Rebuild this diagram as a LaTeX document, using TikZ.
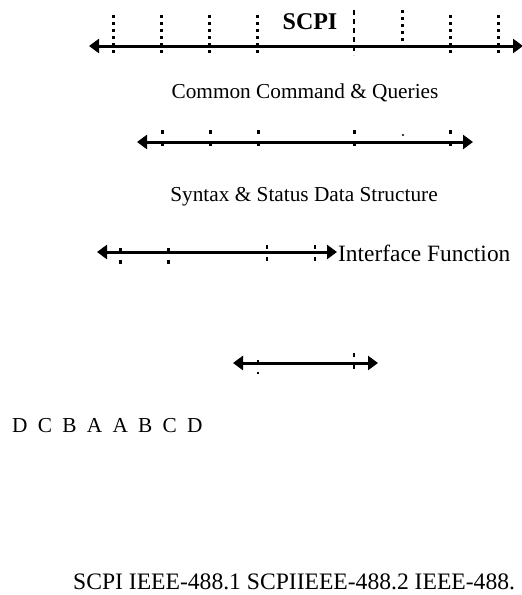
\documentclass[tikz,border=0pt]{standalone}
\usepackage{fontspec}
\setmainfont{Liberation Serif}
\usetikzlibrary{arrows.meta}

\tikzset{
  axis/.style={line width=3pt, {Triangle[length=10pt,width=14pt]}-{Triangle[length=10pt,width=14pt]}},
  tickmark/.style={line width=3pt, dash pattern=on 3pt off 4pt},
  shorttick/.style={line width=3pt, dash pattern=on 4pt off 8pt},
  thintick/.style={line width=1.2pt, dash pattern=on 4pt off 8pt},
  txt/.style={inner sep=0pt, anchor=base},
}

\begin{document}
\begin{tikzpicture}[x=1pt, y=-1pt]
    \useasboundingbox (0,0) rectangle (522,595);

    % SCPI
    \coordinate (scpiL) at (89,46);
    \coordinate (scpiR) at (523,46);
    \foreach \x in {113,161,209,257,450,498}
        \draw[tickmark] (\x,15) -- (\x,55);
    \draw[tickmark] (402,10) -- (402,50);
    \draw[line width=1.2pt, dash pattern=on 5pt off 4pt] (354,10) -- (354,55);
    \draw[axis] (scpiL) -- (scpiR);
    \node[txt, font=\bfseries\fontsize{24pt}{26pt}\selectfont] (scpi) at (310,29) {SCPI};

    % Common Command & Queries
    \node[txt, font=\fontsize{21.3pt}{24pt}\selectfont] (ccq) at (305,98) {Common Command \& Queries};
    \coordinate (ccqL) at (137,142);
    \coordinate (ccqR) at (473,142);
    \foreach \x in {162,210,258,354,450}
        \draw[shorttick] (\x,130) -- (\x,148);
    \fill (403,135) circle (1.2);
    \draw[axis] (ccqL) -- (ccqR);

    % Syntax & Status Data Structure
    \node[txt, font=\fontsize{21.3pt}{24pt}\selectfont] (ssd) at (304,201) {Syntax \& Status Data Structure};

    % Interface Function
    \coordinate (ifL) at (97,252);
    \coordinate (ifR) at (337,252);
    \foreach \x in {120,168}
        \draw[shorttick] (\x,248) -- (\x,264);
    \foreach \x in {267,315}
        \draw[thintick] (\x,245) -- (\x,264);
    \draw[axis] (ifL) -- (ifR);
    \node[txt, anchor=base west, font=\fontsize{23.4pt}{26pt}\selectfont] (iff) at (338,261) {Interface Function};

    % 第四条
    \coordinate (lowL) at (233,363);
    \coordinate (lowR) at (378,363);
    \draw[thintick] (258,360) -- (258,374);
    \draw[thintick] (354,353) -- (354,370);
    \draw[axis] (lowL) -- (lowR);

    % 字母
    \node[txt, anchor=base west, font=\fontsize{21.3pt}{24pt}\selectfont] (letters) at (12,432) {\spaceskip=10.3pt\relax D C B A A B C D};

    \node[txt, anchor=base west, font=\fontsize{23.6pt}{26pt}\selectfont] (stds) at (73,589) {SCPI IEEE-488.1 SCPIIEEE-488.2 IEEE-488.};
\end{tikzpicture}
\end{document}
